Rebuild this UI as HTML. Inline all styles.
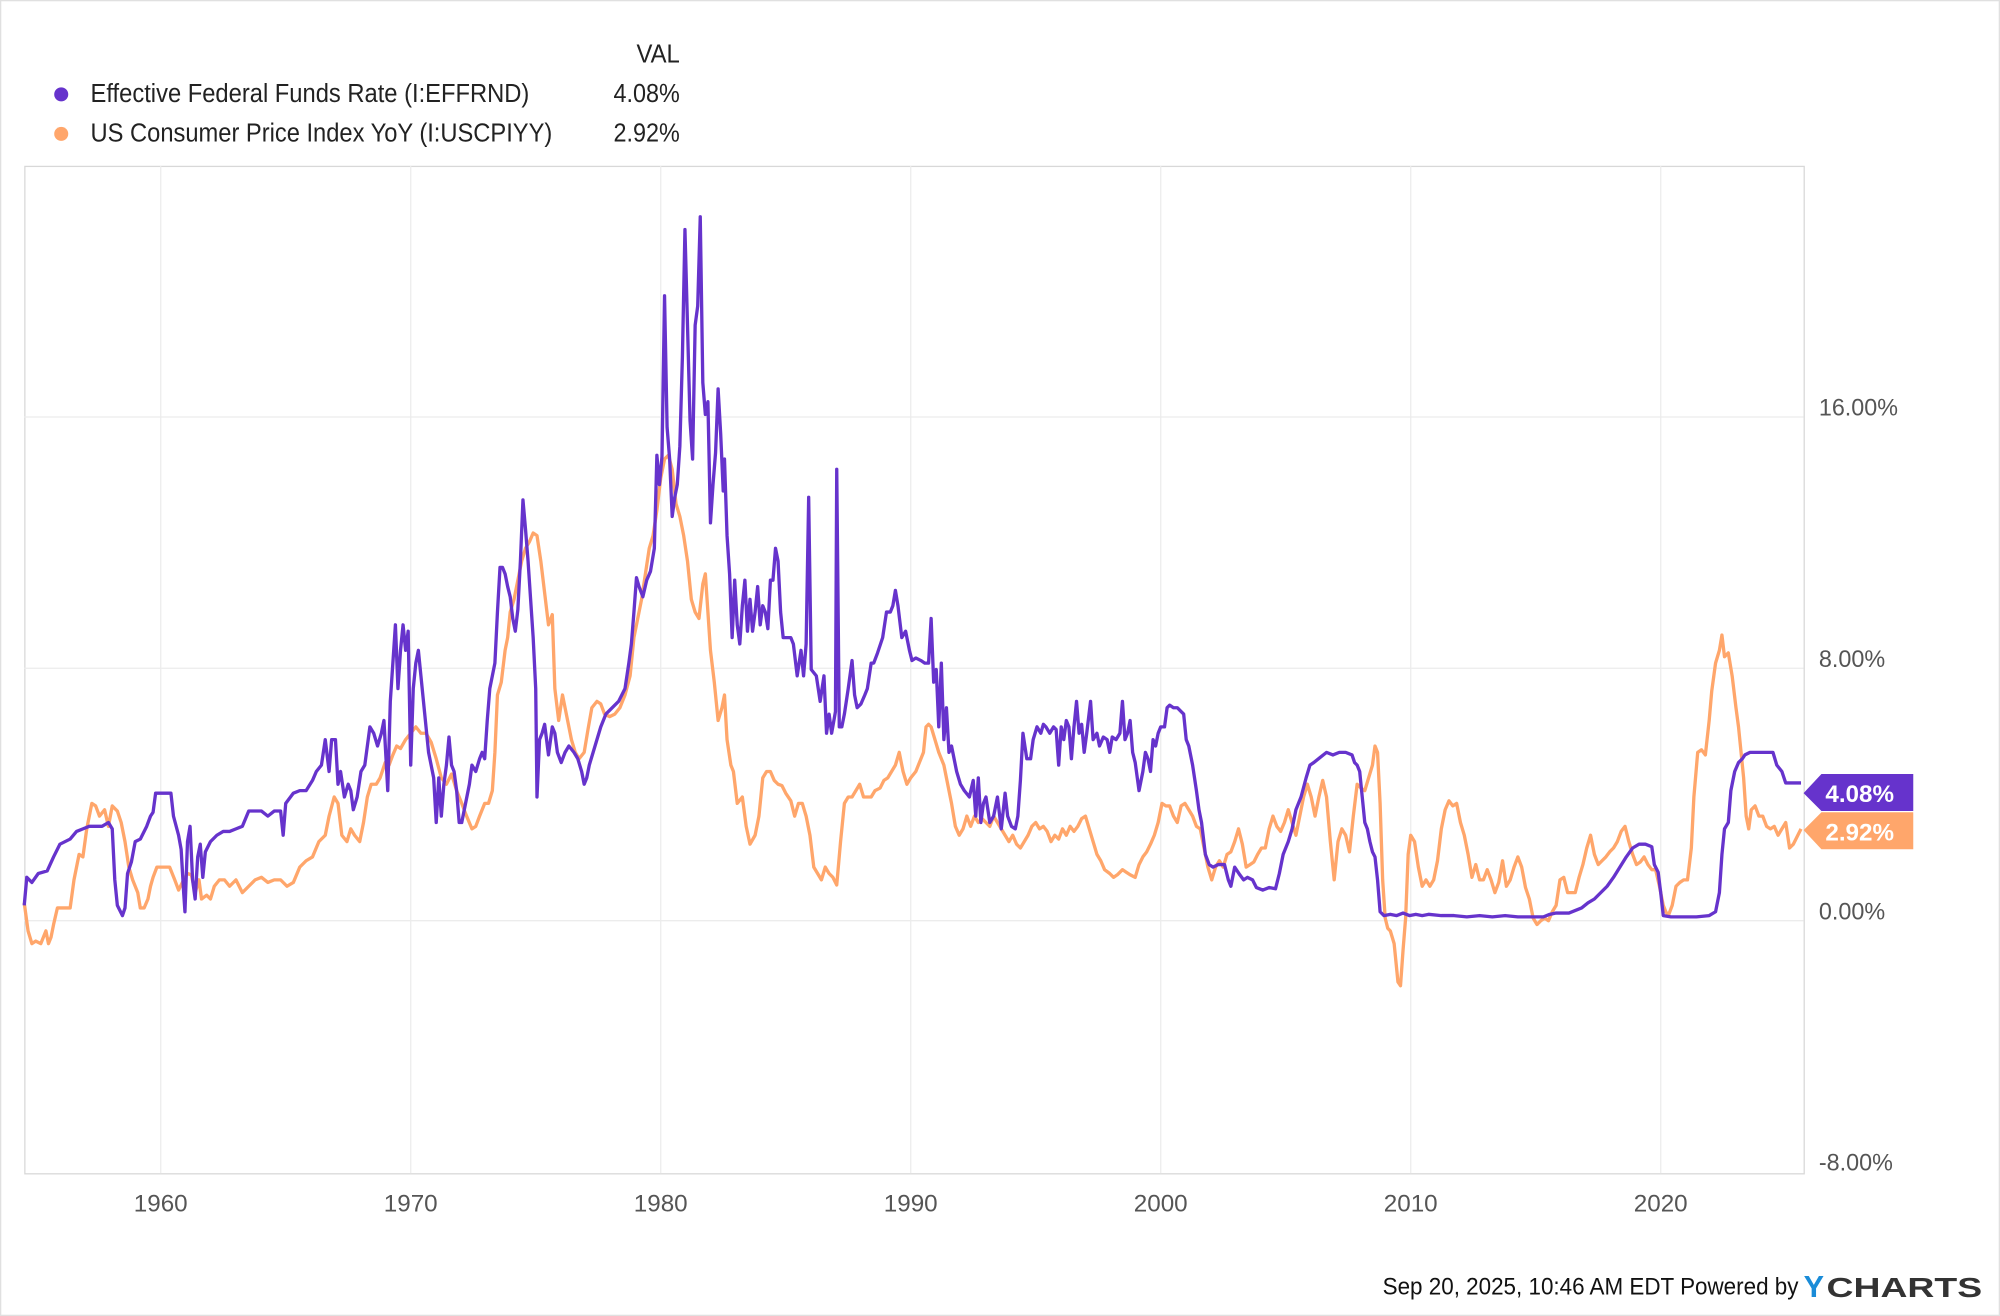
<!DOCTYPE html>
<html><head><meta charset="utf-8"><style>
html,body{margin:0;padding:0;background:#fff;}
svg{display:block;}
text{font-family:"Liberation Sans",sans-serif;}
</style></head><body>
<svg width="2000" height="1316" viewBox="0 0 1568 1032" preserveAspectRatio="none" xmlns="http://www.w3.org/2000/svg">
<rect x="0" y="0" width="1568" height="1032" fill="#fff"/>
<rect x="0.5" y="0.5" width="1567" height="1031" fill="none" stroke="#e0e0e0"/>
<!-- legend -->
<text x="533" y="49" font-size="20" fill="#222" text-anchor="end" textLength="34" lengthAdjust="spacingAndGlyphs">VAL</text>
<circle cx="48" cy="74" r="5.5" fill="#6633cc"/>
<text x="71" y="80" font-size="20" fill="#222" textLength="344" lengthAdjust="spacingAndGlyphs">Effective Federal Funds Rate (I:EFFRND)</text>
<text x="533" y="80" font-size="20" fill="#222" text-anchor="end" textLength="52" lengthAdjust="spacingAndGlyphs">4.08%</text>
<circle cx="48" cy="105" r="5.5" fill="#ffa66b"/>
<text x="71" y="111" font-size="20" fill="#222" textLength="362" lengthAdjust="spacingAndGlyphs">US Consumer Price Index YoY (I:USCPIYY)</text>
<text x="533" y="111" font-size="20" fill="#222" text-anchor="end" textLength="52" lengthAdjust="spacingAndGlyphs">2.92%</text>
<!-- plot frame -->
<rect x="19.5" y="130.5" width="1395" height="790" fill="none" stroke="#d8d8d8"/>
<g stroke="#ececec" stroke-width="1">
<line x1="126" y1="130" x2="126" y2="920"/><line x1="322" y1="130" x2="322" y2="920"/>
<line x1="518" y1="130" x2="518" y2="920"/><line x1="714" y1="130" x2="714" y2="920"/>
<line x1="910" y1="130" x2="910" y2="920"/><line x1="1106" y1="130" x2="1106" y2="920"/>
<line x1="1302" y1="130" x2="1302" y2="920"/>
<line x1="19" y1="327" x2="1414" y2="327"/><line x1="19" y1="524" x2="1414" y2="524"/>
<line x1="19" y1="722" x2="1414" y2="722"/>
</g>
<g font-size="19" fill="#555">
<text x="1426" y="326" textLength="62" lengthAdjust="spacingAndGlyphs">16.00%</text>
<text x="1426" y="523" textLength="52" lengthAdjust="spacingAndGlyphs">8.00%</text>
<text x="1426" y="721" textLength="52" lengthAdjust="spacingAndGlyphs">0.00%</text>
<text x="1426" y="918" textLength="58" lengthAdjust="spacingAndGlyphs">-8.00%</text>
</g>
<g font-size="19" fill="#555" text-anchor="middle">
<text x="126" y="950">1960</text><text x="322" y="950">1970</text><text x="518" y="950">1980</text>
<text x="714" y="950">1990</text><text x="910" y="950">2000</text><text x="1106" y="950">2010</text>
<text x="1302" y="950">2020</text>
</g>
<!-- CPI -->
<polyline fill="none" stroke="#ffa66b" stroke-width="2.6" stroke-linejoin="round" points="19,708 22,730 25,740 28,738 32,740 36,730 38,740 40,735 42,725 45,712 50,712 55,712 58,690 62,670 65,672 68,650 72,630 75,632 78,640 82,635 85,648 88,632 92,636 95,645 98,660 101,680 104,690 108,700 110,712 113,712 116,705 118,695 120,688 123,680 128,680 133,680 137,690 140,698 144,690 147,685 150,686 153,700 156,690 158,705 162,702 165,705 168,695 172,690 176,690 180,695 185,690 190,700 195,695 200,690 205,688 210,692 215,690 220,690 225,695 230,692 235,680 240,675 245,672 250,660 255,655 258,640 262,625 265,630 268,655 272,660 275,650 278,655 282,660 285,645 288,625 291,615 295,615 298,610 302,598 305,600 308,592 311,585 314,587 318,580 322,575 326,570 330,575 334,575 338,582 342,595 346,610 350,615 354,607 358,620 362,630 365,638 370,650 373,648 376,640 380,630 383,630 386,620 388,590 390,545 393,535 396,510 398,500 400,480 403,470 406,455 409,440 412,430 415,425 418,418 421,420 424,440 427,465 430,490 433,482 435,540 438,565 441,545 445,565 448,580 451,590 454,595 458,590 461,572 464,555 468,550 471,552 474,560 478,562 482,560 486,555 490,545 494,530 497,500 500,485 503,470 506,450 509,430 512,420 515,400 518,375 521,360 524,357 527,368 530,395 533,405 536,420 539,440 542,470 545,480 548,485 551,458 553,450 555,480 557,510 560,535 563,565 566,555 568,545 570,580 573,600 575,605 578,630 582,625 585,648 588,662 592,655 595,640 598,610 601,605 604,605 607,612 610,615 613,616 616,622 620,628 623,640 626,630 629,630 632,640 635,655 638,680 641,685 644,690 647,680 650,685 653,688 656,694 659,660 662,630 665,625 668,625 671,620 674,615 677,625 680,625 683,625 686,620 690,618 693,612 696,610 699,605 702,600 705,590 708,605 711,615 714,610 718,605 722,595 724,590 726,570 728,568 730,570 733,580 736,590 740,600 743,615 746,630 749,648 752,655 755,650 758,640 761,648 764,640 767,645 770,642 773,645 776,648 779,640 782,645 785,650 788,655 791,660 794,655 797,662 800,665 803,660 806,655 809,648 812,645 815,650 818,648 821,652 824,660 827,655 830,658 833,650 836,655 839,648 842,652 845,648 848,642 851,640 854,650 857,660 860,670 863,675 866,682 870,685 873,688 876,686 880,682 883,684 886,686 890,688 893,678 896,672 899,668 902,662 905,655 908,645 911,630 914,632 917,632 920,640 923,645 926,632 929,630 932,635 935,640 938,648 941,650 944,665 947,680 950,690 953,680 956,675 959,680 962,670 965,668 968,660 971,650 974,662 977,680 980,678 983,676 986,670 989,665 992,665 995,650 998,640 1001,648 1004,652 1007,645 1010,635 1013,645 1016,655 1019,640 1022,625 1025,615 1028,625 1031,640 1034,625 1037,612 1040,625 1043,660 1046,690 1049,660 1052,650 1055,655 1058,668 1061,640 1064,615 1067,618 1070,620 1073,610 1076,600 1078,585 1080,590 1082,630 1084,690 1086,720 1088,728 1090,730 1093,740 1096,770 1098,773 1100,745 1102,720 1104,670 1106,655 1109,660 1112,680 1115,695 1118,690 1121,695 1124,690 1127,675 1130,650 1133,635 1136,628 1139,632 1142,630 1145,645 1148,655 1151,670 1154,688 1157,678 1160,690 1163,690 1166,682 1169,690 1172,700 1175,692 1178,675 1181,695 1184,690 1187,680 1190,672 1193,680 1196,696 1199,705 1202,720 1205,725 1208,722 1211,720 1214,722 1217,715 1220,710 1223,690 1226,688 1229,700 1232,700 1235,700 1238,688 1241,678 1244,665 1247,655 1250,670 1253,678 1256,675 1259,672 1262,668 1265,665 1268,660 1271,652 1274,648 1277,660 1280,670 1283,678 1286,676 1289,672 1292,678 1295,682 1298,682 1301,695 1304,710 1306,715 1308,718 1311,710 1314,695 1317,692 1320,690 1323,690 1326,665 1328,625 1331,590 1334,588 1337,592 1340,565 1342,542 1345,520 1348,510 1350,498 1352,515 1355,512 1358,530 1361,555 1363,570 1365,590 1367,610 1369,640 1371,650 1373,635 1376,632 1379,640 1382,640 1385,648 1388,650 1391,648 1394,655 1397,650 1400,645 1403,665 1406,662 1409,656 1412,650"/>
<!-- Fed funds -->
<polyline fill="none" stroke="#6633cc" stroke-width="2.6" stroke-linejoin="round" points="19,710 21,688 25,692 30,685 37,683 42,672 47,662 55,658 60,652 65,650 70,648 80,648 85,645 88,650 90,690 92,710 96,718 98,712 100,685 103,676 106,660 110,658 115,648 118,640 120,637 122,622 128,622 134,622 136,640 140,655 142,666 144,700 145,715 147,660 149,648 151,690 153,705 155,672 157,662 159,688 161,668 165,660 170,655 175,652 180,652 185,650 190,648 195,636 200,636 205,636 210,640 215,636 220,636 222,655 224,630 230,622 235,620 240,620 245,612 248,605 252,600 255,580 258,605 260,580 263,580 265,615 267,605 270,625 273,615 275,620 277,635 280,625 283,605 286,600 290,570 293,575 296,585 299,575 301,565 304,620 306,550 308,520 310,490 312,540 314,510 316,490 318,510 320,495 322,600 324,540 326,520 328,510 330,530 333,560 336,590 340,610 342,645 344,610 346,640 348,615 350,600 352,578 354,600 356,605 358,620 360,645 362,645 365,630 368,615 370,600 373,605 376,595 378,590 380,595 382,565 384,540 386,530 388,520 390,480 392,445 394,445 396,450 398,460 400,468 402,485 404,495 406,478 408,440 410,392 412,415 414,440 416,470 418,500 420,540 421,625 423,580 425,575 427,568 430,592 433,570 435,575 437,590 440,598 443,590 446,585 450,590 453,595 456,605 458,615 460,610 462,600 465,590 468,580 471,570 475,560 480,555 485,550 490,540 493,520 495,505 497,480 499,453 501,460 504,468 507,455 510,448 513,430 515,357 517,380 519,358 521,232 523,335 525,360 527,405 529,390 531,380 533,350 535,280 537,180 539,255 541,330 543,360 545,255 547,240 549,170 551,300 553,325 555,315 557,410 559,380 561,355 563,305 565,340 567,385 568,360 570,420 572,450 574,500 576,455 578,490 580,505 582,475 584,455 586,495 588,470 590,495 592,480 594,460 596,490 598,475 600,480 602,493 604,455 606,455 608,430 610,440 612,480 614,500 617,500 620,500 622,505 625,530 628,510 630,530 632,505 634,390 636,525 640,530 643,550 646,530 648,575 650,560 652,575 655,558 656,368 658,570 660,570 662,560 665,540 668,518 670,545 672,555 675,552 678,545 680,540 683,520 685,520 688,512 692,500 695,480 698,480 700,475 702,463 704,475 707,500 710,495 713,510 715,518 718,516 722,518 725,520 728,520 730,485 732,535 734,525 736,570 738,520 740,580 742,555 744,590 746,585 748,595 750,605 753,615 756,620 760,625 763,612 765,640 767,610 769,645 771,630 773,625 776,645 779,640 782,625 785,650 788,622 790,640 793,648 796,650 798,640 800,612 802,575 805,595 808,595 810,580 813,570 816,575 818,568 820,570 823,575 826,570 828,572 830,600 832,570 834,580 836,565 838,570 840,595 842,570 844,550 846,575 848,568 850,590 852,575 855,550 857,580 860,575 862,585 865,578 868,580 870,590 872,578 875,580 878,575 880,550 882,580 884,575 886,565 888,590 890,598 893,620 896,605 898,590 900,595 902,605 904,580 906,585 908,575 910,570 913,570 915,555 917,553 920,555 923,555 926,558 928,560 930,580 932,585 935,600 938,620 940,635 942,645 945,670 948,678 951,680 955,678 960,678 963,690 965,695 968,680 972,686 975,690 978,688 982,690 985,696 990,698 995,696 1000,697 1003,685 1006,670 1010,660 1013,650 1016,635 1020,625 1024,610 1027,600 1030,598 1035,594 1040,590 1045,592 1050,590 1055,590 1060,592 1062,598 1064,600 1066,605 1068,625 1070,645 1072,650 1074,660 1076,668 1078,672 1080,690 1082,715 1085,718 1090,717 1095,718 1100,716 1105,718 1110,717 1115,718 1120,717 1130,718 1140,718 1150,719 1160,718 1170,719 1180,718 1190,719 1200,719 1210,719 1215,717 1220,716 1230,716 1240,712 1245,708 1250,705 1255,700 1260,695 1265,688 1270,680 1275,672 1280,665 1285,662 1290,662 1295,664 1297,678 1300,684 1302,700 1304,718 1310,719 1320,719 1330,719 1340,718 1345,715 1348,700 1350,670 1352,650 1355,645 1357,620 1360,605 1363,598 1366,595 1368,592 1372,590 1380,590 1390,590 1393,600 1397,605 1400,614 1405,614 1412,614"/>
<!-- badges -->
<polygon points="1414,622 1428,607 1500,607 1500,636 1428,636" fill="#6633cc"/>
<text x="1458" y="629" font-size="19" font-weight="bold" fill="#fff" text-anchor="middle">4.08%</text>
<polygon points="1414,651 1428,637 1500,637 1500,666 1428,666" fill="#ffa66b"/>
<text x="1458" y="659" font-size="19" font-weight="bold" fill="#fff" text-anchor="middle">2.92%</text>
<!-- footer -->
<text x="1410" y="1015" font-size="19" fill="#111" text-anchor="end" textLength="326" lengthAdjust="spacingAndGlyphs">Sep 20, 2025, 10:46 AM EDT Powered by</text>
<text x="1414" y="1017" font-size="24" font-weight="bold" fill="#1a8cd8">Y</text>
<text x="1432" y="1017" font-size="22" font-weight="bold" fill="#333" textLength="122" lengthAdjust="spacingAndGlyphs">CHARTS</text>
</svg>
</body></html>
